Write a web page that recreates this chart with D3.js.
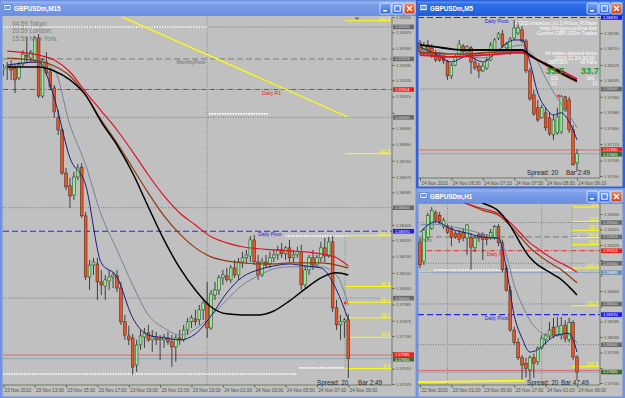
<!DOCTYPE html>
<html>
<head>
<meta charset="utf-8">
<script src="https://cdn.jsdelivr.net/npm/d3@7"></script>
<style>
html, body { margin: 0; padding: 0; background: #2a5bd7; overflow: hidden; }
svg { display: block; }
text { font-family: "Liberation Sans", Arial, sans-serif; }
</style>
</head>
<body>
<script>
// ---------------- M15 (main window) ----------------
// one bar every 15 minutes, first bar 23 Nov 11:00, last 24 Nov 09:00
var m15TimeLabels = ["23 Nov 2010", "23 Nov 13:00", "23 Nov 15:00", "23 Nov 17:00", "23 Nov 19:00", "23 Nov 21:00",
  "23 Nov 23:00", "24 Nov 01:00", "24 Nov 03:00", "24 Nov 05:00", "24 Nov 07:00", "24 Nov 09:00"];
var m15TimeBars = [0, 8, 16, 24, 32, 40, 48, 56, 64, 72, 80, 88];
var m15PriceLabels = ["1.59555", "1.59470", "1.59380", "1.59290", "1.59205", "1.59115", "1.59025", "1.58940",
  "1.58850", "1.58760", "1.58670", "1.58585", "1.58495", "1.58405", "1.58320", "1.58230", "1.58140", "1.58055",
  "1.57965", "1.57875", "1.57790", "1.57700", "1.57610", "1.57525"];
// [open, high, low, close]
var m15Candles = [
  [1.59262, 1.59295, 1.59229, 1.59273], [1.59273, 1.59306, 1.59207, 1.59284], [1.59284, 1.59317, 1.59207, 1.59262],
  [1.59273, 1.59295, 1.59134, 1.59207], [1.59218, 1.59306, 1.59207, 1.59289], [1.59295, 1.59372, 1.59284, 1.59350],
  [1.59344, 1.59444, 1.59306, 1.59333], [1.59328, 1.59372, 1.59306, 1.59361], [1.59317, 1.59450, 1.59306, 1.59439],
  [1.59439, 1.59461, 1.59107, 1.59118], [1.59118, 1.59328, 1.59107, 1.59317], [1.59306, 1.59361, 1.59229, 1.59245],
  [1.59251, 1.59273, 1.59151, 1.59168], [1.59163, 1.59179, 1.58997, 1.59030], [1.58997, 1.59041, 1.58902, 1.58930],
  [1.58930, 1.58941, 1.58681, 1.58692], [1.58692, 1.58720, 1.58598, 1.58615], [1.58621, 1.58665, 1.58499, 1.58565],
  [1.58570, 1.58698, 1.58543, 1.58670], [1.58670, 1.58742, 1.58654, 1.58720], [1.58725, 1.58747, 1.58444, 1.58455],
  [1.58455, 1.58477, 1.58101, 1.58117], [1.58117, 1.58211, 1.58045, 1.58183], [1.58183, 1.58223, 1.58128, 1.58200],
  [1.58189, 1.58223, 1.57990, 1.58090], [1.58090, 1.58156, 1.58017, 1.58073], [1.58067, 1.58128, 1.57990, 1.58101],
  [1.58095, 1.58156, 1.58045, 1.58117], [1.58117, 1.58145, 1.58056, 1.58128], [1.58123, 1.58156, 1.58034, 1.58056],
  [1.58056, 1.58090, 1.57852, 1.57869], [1.57869, 1.57907, 1.57769, 1.57796], [1.57791, 1.57847, 1.57741, 1.57769],
  [1.57780, 1.57802, 1.57575, 1.57619], [1.57630, 1.57769, 1.57592, 1.57741], [1.57741, 1.57824, 1.57714, 1.57791],
  [1.57785, 1.57835, 1.57725, 1.57808], [1.57808, 1.57852, 1.57758, 1.57769], [1.57769, 1.57824, 1.57703, 1.57785],
  [1.57780, 1.57813, 1.57741, 1.57769], [1.57769, 1.57796, 1.57658, 1.57774], [1.57769, 1.57802, 1.57725, 1.57785],
  [1.57780, 1.57813, 1.57741, 1.57758], [1.57758, 1.57796, 1.57619, 1.57730], [1.57730, 1.57796, 1.57647, 1.57780],
  [1.57780, 1.57824, 1.57741, 1.57769], [1.57769, 1.57852, 1.57758, 1.57824], [1.57824, 1.57891, 1.57796, 1.57869],
  [1.57869, 1.57907, 1.57835, 1.57891], [1.57885, 1.57935, 1.57847, 1.57869], [1.57880, 1.57962, 1.57852, 1.57935],
  [1.57935, 1.57990, 1.57880, 1.57973], [1.57973, 1.58090, 1.57780, 1.57835], [1.57835, 1.58045, 1.57824, 1.58023],
  [1.58017, 1.58090, 1.57990, 1.58045], [1.58045, 1.58128, 1.58017, 1.58112], [1.58112, 1.58156, 1.58073, 1.58128],
  [1.58123, 1.58167, 1.58090, 1.58101], [1.58101, 1.58183, 1.58084, 1.58167], [1.58167, 1.58211, 1.58112, 1.58128],
  [1.58128, 1.58223, 1.58101, 1.58200], [1.58200, 1.58256, 1.58167, 1.58223], [1.58223, 1.58267, 1.58189, 1.58239],
  [1.58233, 1.58344, 1.58200, 1.58322], [1.58322, 1.58350, 1.58183, 1.58200], [1.58200, 1.58239, 1.58101, 1.58128],
  [1.58128, 1.58223, 1.58117, 1.58200], [1.58200, 1.58239, 1.58167, 1.58183], [1.58189, 1.58256, 1.58167, 1.58223],
  [1.58223, 1.58267, 1.58200, 1.58239], [1.58239, 1.58289, 1.58211, 1.58267], [1.58267, 1.58306, 1.58223, 1.58245],
  [1.58245, 1.58289, 1.58211, 1.58278], [1.58278, 1.58322, 1.58200, 1.58223], [1.58223, 1.58267, 1.58200, 1.58239],
  [1.58239, 1.58284, 1.58223, 1.58256], [1.58256, 1.58295, 1.58045, 1.58073], [1.58073, 1.58183, 1.58056, 1.58156],
  [1.58156, 1.58239, 1.58128, 1.58223], [1.58223, 1.58267, 1.58156, 1.58183], [1.58183, 1.58239, 1.58167, 1.58223],
  [1.58223, 1.58311, 1.58200, 1.58278], [1.58278, 1.58333, 1.58200, 1.58233], [1.58233, 1.58339, 1.58223, 1.58311],
  [1.58311, 1.58344, 1.57924, 1.57946], [1.57946, 1.57990, 1.57824, 1.57852], [1.57852, 1.57907, 1.57769, 1.57869],
  [1.57869, 1.57891, 1.57780, 1.57880], [1.57880, 1.57913, 1.57559, 1.57665]
];
// moving averages read at a few bars
var m15MaBars = [1, 9, 13, 17, 21, 25, 29, 33, 37, 41, 45, 49, 53, 57, 61, 65, 69, 73, 77, 81, 85, 88];
var m15MaRed = [1.59366, 1.59344, 1.59317, 1.59251, 1.59140, 1.59035, 1.58930, 1.58809, 1.58681, 1.58565, 1.58471,
  1.58405, 1.58339, 1.58306, 1.58284, 1.58273, 1.58267, 1.58261, 1.58256, 1.58245, 1.58223, 1.58178];
var m15MaBrown = [1.59328, 1.59311, 1.59284, 1.59229, 1.59123, 1.58985, 1.58858, 1.58720, 1.58581, 1.58455, 1.58355,
  1.58278, 1.58228, 1.58206, 1.58195, 1.58189, 1.58189, 1.58195, 1.58195, 1.58195, 1.58183, 1.58167];
var m15MaBlack = [1.59278, 1.59278, 1.59256, 1.59207, 1.59123, 1.58974, 1.58847, 1.58692, 1.58504, 1.58322, 1.58167,
  1.58045, 1.57951, 1.57913, 1.57907, 1.57907, 1.57929, 1.57985, 1.58051, 1.58112, 1.58140, 1.58128];
var m15MaBlue = [1.59289, 1.59306, 1.59107, 1.58775, 1.58626, 1.58195, 1.58117, 1.57891, 1.57796, 1.57780, 1.57769,
  1.57802, 1.57902, 1.58029, 1.58117, 1.58156, 1.58178, 1.58189, 1.58178, 1.58167, 1.58045, 1.57880];
var m15MaSlate = [1.59284, 1.59306, 1.59262, 1.58958, 1.58737, 1.58460, 1.58267, 1.58073, 1.57907, 1.57835, 1.57796,
  1.57830, 1.57902, 1.57990, 1.58073, 1.58123, 1.58162, 1.58173, 1.58173, 1.58173, 1.58128, 1.57962];
// session high / low dotted segments: [fromBar, toBar, price]
var m15Sessions = [[0, 52, 1.59500], [52.5, 67.5, 1.59019], [72, 88, 1.58344], [0, 75, 1.57580], [75.5, 87, 1.57614]];
var m15Trend = [[30.3, 1.59555], [87.9, 1.59002]];
var m15FibLow = 1.57610, m15FibHigh = 1.58345, m15FibBar = 87.2;
var m15Marker = [87.2, 1.57973];
var m15DaySeparators = [52];

// ---------------- M5 ----------------
var m5TimeLabels = ["24 Nov 2010", "24 Nov 06:30", "24 Nov 07:10", "24 Nov 07:50", "24 Nov 08:30", "24 Nov 09:10"];
var m5TimeBars = [0, 8, 16, 24, 32, 40];
var m5PriceLabels = ["1.58290", "1.58210", "1.58125", "1.58045", "1.57960", "1.57880", "1.57800", "1.57715",
  "1.57630", "1.57550"];
var m5Candles = [
  [1.58238, 1.58254, 1.58176, 1.58192], [1.58202, 1.58244, 1.58176, 1.58223], [1.58228, 1.58254, 1.58176, 1.58187],
  [1.58213, 1.58233, 1.58161, 1.58171], [1.58187, 1.58202, 1.58140, 1.58150], [1.58176, 1.58192, 1.58140, 1.58150],
  [1.58166, 1.58181, 1.58130, 1.58145], [1.58140, 1.58150, 1.58047, 1.58068], [1.58068, 1.58135, 1.58052, 1.58124],
  [1.58124, 1.58176, 1.58119, 1.58166], [1.58166, 1.58254, 1.58161, 1.58233], [1.58223, 1.58233, 1.58181, 1.58192],
  [1.58192, 1.58228, 1.58176, 1.58218], [1.58213, 1.58223, 1.58078, 1.58140], [1.58140, 1.58161, 1.58099, 1.58109],
  [1.58119, 1.58135, 1.58057, 1.58094], [1.58094, 1.58135, 1.58088, 1.58119], [1.58109, 1.58166, 1.58099, 1.58150],
  [1.58150, 1.58244, 1.58145, 1.58228], [1.58202, 1.58264, 1.58192, 1.58254], [1.58264, 1.58295, 1.58254, 1.58285],
  [1.58285, 1.58306, 1.58213, 1.58223], [1.58213, 1.58244, 1.58202, 1.58233], [1.58187, 1.58269, 1.58176, 1.58259],
  [1.58264, 1.58357, 1.58254, 1.58316], [1.58290, 1.58347, 1.58280, 1.58316], [1.58306, 1.58326, 1.58238, 1.58249],
  [1.58249, 1.58259, 1.58083, 1.58094], [1.58094, 1.58109, 1.57939, 1.57949], [1.57970, 1.57995, 1.57861, 1.57871],
  [1.57903, 1.57944, 1.57830, 1.57840], [1.57851, 1.57918, 1.57846, 1.57903], [1.57877, 1.57903, 1.57784, 1.57799],
  [1.57851, 1.57882, 1.57758, 1.57768], [1.57763, 1.57866, 1.57737, 1.57840], [1.57773, 1.57903, 1.57763, 1.57856],
  [1.57778, 1.57970, 1.57768, 1.57960], [1.57960, 1.57965, 1.57882, 1.57892], [1.57944, 1.57960, 1.57773, 1.57789],
  [1.57789, 1.57814, 1.57603, 1.57608], [1.57618, 1.57690, 1.57572, 1.57665]
];
var m5MaBars = [0, 4, 8, 12, 16, 20, 24, 26, 28, 30, 32, 34, 36, 38, 40];
var m5MaBlack = [1.58228, 1.58218, 1.58207, 1.58202, 1.58202, 1.58202, 1.58202, 1.58202, 1.58176, 1.58150, 1.58130,
  1.58109, 1.58083, 1.58062, 1.58042];
var m5MaRed = [1.58176, 1.58171, 1.58166, 1.58171, 1.58176, 1.58181, 1.58187, 1.58187, 1.58171, 1.58150, 1.58130,
  1.58109, 1.58094, 1.58073, 1.58052];
var m5MaBrown = [1.58187, 1.58187, 1.58181, 1.58181, 1.58187, 1.58192, 1.58192, 1.58192, 1.58171, 1.58150, 1.58124,
  1.58099, 1.58078, 1.58057, 1.58037];
var m5MaBlue = [1.58218, 1.58181, 1.58140, 1.58171, 1.58140, 1.58202, 1.58254, 1.58254, 1.58140, 1.57980, 1.57903,
  1.57866, 1.57877, 1.57830, 1.57737];
var m5MaSlate = [1.58202, 1.58187, 1.58166, 1.58166, 1.58161, 1.58187, 1.58223, 1.58228, 1.58192, 1.58140, 1.58057,
  1.57985, 1.57923, 1.57866, 1.57799];
var m5Marker = [35.3, 1.57965];

// ---------------- H1 ----------------
var h1TimeLabels = ["22 Nov 2010", "23 Nov 01:00", "23 Nov 09:00", "23 Nov 17:00", "24 Nov 01:00", "24 Nov 09:00"];
var h1TimeBars = [0, 8, 16, 24, 32, 40];
var h1PriceLabels = ["1.59605", "1.59415", "1.59225", "1.59040", "1.58850", "1.58660", "1.58470", "1.58285",
  "1.58095", "1.57905", "1.57715", "1.57530"];
var h1Candles = [
  [1.5926, 1.5931, 1.5894, 1.5898], [1.5902, 1.5943, 1.5898, 1.5941], [1.5932, 1.5962, 1.5929, 1.5959],
  [1.5943, 1.5969, 1.5941, 1.5965], [1.5962, 1.5965, 1.5951, 1.5953], [1.5959, 1.5963, 1.5948, 1.5951],
  [1.5945, 1.5956, 1.5942, 1.5953], [1.5945, 1.5948, 1.5936, 1.5938], [1.5943, 1.5946, 1.5921, 1.5932],
  [1.5937, 1.5940, 1.5930, 1.5932], [1.5937, 1.5941, 1.5925, 1.5929], [1.5938, 1.5943, 1.5927, 1.5931],
  [1.5931, 1.5948, 1.5910, 1.5947], [1.5932, 1.5937, 1.5892, 1.5920], [1.5919, 1.5934, 1.5914, 1.5931],
  [1.5935, 1.5937, 1.5926, 1.5931], [1.5935, 1.5938, 1.5904, 1.5929], [1.5932, 1.5936, 1.5922, 1.5929],
  [1.5931, 1.5942, 1.5929, 1.5938], [1.5931, 1.5947, 1.5929, 1.5945], [1.5945, 1.5948, 1.5921, 1.5925],
  [1.5925, 1.5929, 1.5889, 1.5892], [1.5894, 1.5898, 1.5865, 1.5867], [1.5867, 1.5872, 1.5816, 1.5818],
  [1.5818, 1.5822, 1.5800, 1.5803], [1.5803, 1.5808, 1.5781, 1.5784], [1.5784, 1.5787, 1.5757, 1.5775],
  [1.5777, 1.5784, 1.5760, 1.5771], [1.5769, 1.5787, 1.5757, 1.5784], [1.5784, 1.5789, 1.5759, 1.5777],
  [1.5779, 1.5798, 1.5775, 1.5796], [1.5796, 1.5812, 1.5794, 1.5808], [1.5806, 1.5814, 1.5800, 1.5812],
  [1.5810, 1.5828, 1.5806, 1.5818], [1.5821, 1.5833, 1.5808, 1.5812], [1.5812, 1.5834, 1.5810, 1.5822],
  [1.5812, 1.5834, 1.5806, 1.5824], [1.5824, 1.5830, 1.5803, 1.5808], [1.5806, 1.5833, 1.5803, 1.5827],
  [1.5827, 1.5830, 1.5781, 1.5785], [1.5785, 1.5787, 1.5757, 1.57665]
];
var h1MaBars = [0, 4, 8, 12, 16, 20, 22, 24, 26, 28, 30, 32, 34, 36, 38, 40];
var h1MaRed = [1.6002, 1.5996, 1.5984, 1.5973, 1.5967, 1.5961, 1.5954, 1.5945, 1.5935, 1.5925, 1.5918, 1.5911,
  1.5905, 1.5900, 1.5895, 1.5889];
var h1MaBrown = [1.5999, 1.5994, 1.5981, 1.5973, 1.5965, 1.5959, 1.5951, 1.5941, 1.5930, 1.5919, 1.5911, 1.5904,
  1.5898, 1.5892, 1.5884, 1.5876];
var h1MaBlack = [1.6008, 1.6002, 1.5992, 1.5983, 1.5974, 1.5964, 1.5953, 1.5938, 1.5921, 1.5907, 1.5898, 1.5892,
  1.5886, 1.5880, 1.5871, 1.5861];
var h1MaBlue = [1.5938, 1.5951, 1.5942, 1.5937, 1.5932, 1.5931, 1.5894, 1.5836, 1.5808, 1.5791, 1.5794, 1.5802,
  1.5810, 1.5813, 1.5814, 1.5791];
var h1MaSlate = [1.5947, 1.5948, 1.5945, 1.5941, 1.5936, 1.5929, 1.5910, 1.5873, 1.5849, 1.5830, 1.5818, 1.5812,
  1.5811, 1.5812, 1.5812, 1.5802];
var h1Sessions = [[-1, 2.8, 1.58885], [3.5, 38.7, 1.58917]];
var h1Trend = [[-1, 1.57540], [26.7, 1.57560]];
var h1FibLow = 1.58942, h1FibHigh = 1.59691, h1FibBar = 38.7;
var h1DaySeparators = [7, 31];
var h1SupportLine = 1.58885;

// ---------------- shared levels ----------------
var roundLevels = [1.595, 1.590, 1.585, 1.580];
var pivotNames = ["MonthlyPivot", "Daily R1", "Daily Pivot"];
var pivotPrices = [1.59323, 1.59154, 1.58370];
var askPrice = 1.57685, bidPrice = 1.57665;
var fibLevels = [0, 23.6, 38.2, 50, 61.8, 100, 161.8, 261.8];

var svg = d3.select('body').append('svg').attr('width', 625).attr('height', 398);
var fmt5 = d3.format('.5f');
var defs = svg.append('defs');

function gradient(id, stops) {
  var gr = defs.append('linearGradient').attr('id', id).attr('x1', 0).attr('y1', 0).attr('x2', 0).attr('y2', 1);
  stops.forEach(function(s) { gr.append('stop').attr('offset', s[0]).attr('stop-color', s[1]); });
}
gradient('tbInactive', [[0, '#9db8f0'], [0.25, '#7b9de8'], [1, '#6a8fe2']]);
gradient('tbActive', [[0, '#5c96f5'], [0.2, '#2f6fe8'], [1, '#1d5ddc']]);
gradient('btnBlue', [[0, '#7aa6f7'], [1, '#2f66dc']]);
gradient('btnRed', [[0, '#f08a60'], [1, '#d0401a']]);

svg.append('rect').attr('width', 625).attr('height', 398).attr('fill', '#2a5bd7');

function drawWindow(w) {
  var g = svg.append('g');
  g.append('rect').attr('x', w.x).attr('y', w.y).attr('width', w.w).attr('height', w.h)
    .attr('fill', w.active ? '#2d62dc' : '#6f93e4');
  g.append('rect').attr('x', w.x + 1.5).attr('y', w.y + 1.5).attr('width', w.w - 3).attr('height', 14)
    .attr('fill', w.active ? 'url(#tbActive)' : 'url(#tbInactive)');
  // little chart icon
  g.append('rect').attr('x', w.x + 4).attr('y', w.y + 4.5).attr('width', 7).attr('height', 6)
    .attr('fill', '#ffffff').attr('stroke', '#3a5fb0').attr('stroke-width', 0.6);
  g.append('rect').attr('x', w.x + 5).attr('y', w.y + 6).attr('width', 5).attr('height', 3).attr('fill', '#6a9be8');
  g.append('text').attr('x', w.x + 14).attr('y', w.y + 11).attr('fill', '#ffffff')
    .attr('font-size', 6.3).attr('font-weight', 'bold').text(w.title);
  var bx = [w.x + w.w - 38, w.x + w.w - 26, w.x + w.w - 14];
  bx.forEach(function(x0, k) {
    g.append('rect').attr('x', x0).attr('y', w.y + 3).attr('width', 11).attr('height', 11).attr('rx', 1.5)
      .attr('fill', k === 2 ? 'url(#btnRed)' : 'url(#btnBlue)').attr('stroke', '#ffffff').attr('stroke-width', 0.7);
    if (k === 0) {
      g.append('rect').attr('x', x0 + 3).attr('y', w.y + 10).attr('width', 4).attr('height', 1.5).attr('fill', '#fff');
    } else if (k === 1) {
      g.append('rect').attr('x', x0 + 2.8).attr('y', w.y + 5.8).attr('width', 5.4).attr('height', 5.4)
        .attr('fill', 'none').attr('stroke', '#fff').attr('stroke-width', 1);
    } else {
      g.append('path').attr('d', 'M' + (x0 + 3) + ',' + (w.y + 6) + 'l5,5M' + (x0 + 8) + ',' + (w.y + 6) + 'l-5,5')
        .attr('stroke', '#fff').attr('stroke-width', 1.3);
    }
  });
  g.append('rect').attr('x', w.x + 2.5).attr('y', w.y + 16).attr('width', w.w - 5).attr('height', w.h - 18.5)
    .attr('fill', '#c0c0c0');
}

function hLine(g, x0, x1, yv, color, dash, width) {
  g.append('line').attr('x1', x0).attr('x2', x1).attr('y1', yv).attr('y2', yv)
    .attr('stroke', color).attr('stroke-width', width || 1).attr('stroke-dasharray', dash || null);
}

function axisBox(g, xAxis, yv, label, fill, color) {
  g.append('rect').attr('x', xAxis + 1).attr('y', yv - 2.3).attr('width', 21).attr('height', 4.6).attr('fill', fill);
  g.append('text').attr('x', xAxis + 3).attr('y', yv + 1.4).attr('font-size', 4).attr('fill', color).text(label);
}

function drawChart(c) {
  var g = svg.append('g');
  var x = d3.scaleLinear().domain(c.xDomain).range(c.xRange);
  var y = d3.scaleLinear().domain(c.yDomain).range(c.yRange);
  var P = c.plot;

  defs.append('clipPath').attr('id', 'clip-' + c.id).append('rect')
    .attr('x', P.l).attr('y', P.t).attr('width', P.r - P.l).attr('height', P.b - P.t);
  var p = g.append('g').attr('clip-path', 'url(#clip-' + c.id + ')');

  // round price levels
  roundLevels.forEach(function(v) { hLine(p, P.l, P.r, y(v), '#7c7c7c', '1,1.5'); });
  // day separators
  (c.daySeps || []).forEach(function(b) {
    p.append('line').attr('x1', x(b)).attr('x2', x(b)).attr('y1', P.t).attr('y2', P.b)
      .attr('stroke', '#7f8c70').attr('stroke-dasharray', '1,1.5');
  });
  // session dotted segments
  (c.sessions || []).forEach(function(s) {
    hLine(p, x(s[0]), x(s[1]), y(s[2]), '#ffffff', '1.6,1', 1.6);
  });
  if (c.support) hLine(p, P.l, P.r, y(c.support), '#8da4bd', null, 1);
  // pivots
  hLine(p, P.l, P.r, y(pivotPrices[0]), '#7a7a7a', '6,3');
  hLine(p, P.l, P.r, y(pivotPrices[1]), '#e22a2a', '5,1.5,1,1.5');
  hLine(p, P.l, P.r, y(pivotPrices[2]), '#2626e6', '6,3', 1.1);
  // bid / ask
  hLine(p, P.l, P.r, y(askPrice), '#e06a6a');
  hLine(p, P.l, P.r, y(bidPrice), '#8ea0b6');

  // fibonacci
  if (c.fib) {
    var fx = x(c.fib.bar);
    p.append('line').attr('x1', fx).attr('x2', fx).attr('y1', y(c.fib.p0)).attr('y2', y(c.fib.p100))
      .attr('stroke', '#5da05d').attr('stroke-dasharray', '1,1.5');
    fibLevels.forEach(function(l) {
      var pr = c.fib.p0 + (c.fib.p100 - c.fib.p0) * l / 100;
      hLine(p, fx, P.r, y(pr), '#ffff00');
      p.append('text').attr('x', P.r - 2).attr('y', y(pr) - 0.8).attr('text-anchor', 'end')
        .attr('font-size', 4.6).attr('fill', '#ffff00').text(d3.format('.1f')(l));
    });
  }
  // trend line
  if (c.trend) {
    p.append('line').attr('x1', x(c.trend[0][0])).attr('y1', y(c.trend[0][1]))
      .attr('x2', x(c.trend[1][0])).attr('y2', y(c.trend[1][1]))
      .attr('stroke', '#ffff00').attr('stroke-width', c.trendWidth || 1.3);
  }

  // candles
  var bars = p.append('g').selectAll('g').data(c.candles).join('g');
  bars.append('line')
    .attr('x1', function(d, i) { return x(i); }).attr('x2', function(d, i) { return x(i); })
    .attr('y1', function(d) { return y(d[1]); }).attr('y2', function(d) { return y(d[2]); })
    .attr('stroke', '#1e1e1e').attr('stroke-width', 0.8);
  bars.append('rect')
    .attr('x', function(d, i) { return x(i) - 1.4; }).attr('width', 2.8)
    .attr('y', function(d) { return y(Math.max(d[0], d[3])); })
    .attr('height', function(d) { return Math.max(0.8, Math.abs(y(d[0]) - y(d[3]))); })
    .attr('fill', function(d) { return d[3] >= d[0] ? '#90ee90' : '#f0521f'; })
    .attr('stroke', '#2a2a2a').attr('stroke-width', 0.5);

  // moving averages
  var line = d3.line().x(function(d) { return x(d[0]); }).y(function(d) { return y(d[1]); })
    .curve(d3.curveMonotoneX);
  c.mas.forEach(function(m) {
    p.append('path').datum(c.maBars.map(function(b, k) { return [b, m.values[k]]; }))
      .attr('d', line).attr('fill', 'none').attr('stroke', m.color).attr('stroke-width', m.width);
  });

  if (c.marker) {
    p.append('circle').attr('cx', x(c.marker[0])).attr('cy', y(c.marker[1])).attr('r', 1.4).attr('fill', '#ff2020');
  }
  // pivot labels
  (c.pivotLabels || []).forEach(function(pl) {
    var k = pivotNames.indexOf(pl[0]);
    var col = ['#6c6c6c', '#e02020', '#2424e0'][k];
    p.append('text').attr('x', x(pl[1])).attr('y', y(pivotPrices[k]) + 5.2).attr('text-anchor', pl[2] || 'start')
      .attr('font-size', 5).attr('fill', col).text(pl[0]);
  });

  // price boxes on the axis (listed first so that tick labels they cover can be dropped)
  var lo = Math.min(c.yDomain[0], c.yDomain[1]) - 0.0001;
  var hi = y.invert(P.t - 2);
  function inRange(v) { return v >= lo && v <= hi; }
  var boxes = [];
  roundLevels.forEach(function(v) { if (inRange(v)) boxes.push([v, '#6a6a6a', '#dcdcdc']); });
  if (inRange(pivotPrices[0])) boxes.push([pivotPrices[0], '#6a6a6a', '#dcdcdc']);
  if (inRange(pivotPrices[1])) boxes.push([pivotPrices[1], '#ee1c1c', '#ffffff']);
  if (c.support) boxes.push([c.support, '#6f8fb4', '#ffffff']);
  if (inRange(pivotPrices[2])) boxes.push([pivotPrices[2], '#1c1cf0', '#ffffff']);
  if (c.showAsk) boxes.push([askPrice, '#ee1c1c', '#ffffff']);
  boxes.push([bidPrice, '#3b6a34', '#ffffff']);

  // axes
  var ya = g.append('g').attr('transform', 'translate(' + P.r + ',0)')
    .call(d3.axisRight(y).tickValues(c.priceLabels.map(Number)).tickFormat(fmt5).tickSize(2.5).tickPadding(1.5));
  ya.select('.domain').remove();
  ya.selectAll('line').attr('stroke', '#55604f');
  ya.selectAll('text').attr('font-size', 4.2).attr('fill', '#4d5346').attr('font-family', null);
  ya.selectAll('.tick').filter(function(d) {
    return boxes.some(function(b) { return Math.abs(y(b[0]) - y(d)) < 4.8; });
  }).select('text').remove();
  var xa = g.append('g').attr('transform', 'translate(0,' + P.b + ')')
    .call(d3.axisBottom(x).tickValues(c.timeBars).tickFormat(function(d, i) { return c.timeLabels[i]; })
      .tickSize(2.5).tickPadding(1));
  xa.select('.domain').remove();
  xa.selectAll('line').attr('stroke', '#55604f');
  xa.selectAll('text').attr('font-size', 4.7).attr('fill', '#4d5346').attr('text-anchor', 'start')
    .attr('dx', 0.8).attr('font-family', null);
  g.append('path').attr('d', 'M' + P.l + ',' + P.b + 'H' + P.r + 'V' + P.t)
    .attr('fill', 'none').attr('stroke', '#6d7a62').attr('stroke-width', 1);

  boxes.forEach(function(b) {
    var yy = y(b[0]);
    if (c.showAsk && b[0] === askPrice) yy -= 0.5;
    if (c.showAsk && b[0] === bidPrice) yy += 0.5;
    axisBox(g, P.r, yy, fmt5(b[0]), b[1], b[2]);
  });

  // spread / bar countdown
  g.append('text').attr('x', c.spread[0]).attr('y', c.spread[2]).attr('font-size', 6.4).attr('fill', '#262626')
    .text('Spread: 20');
  g.append('text').attr('x', c.spread[1]).attr('y', c.spread[2]).attr('font-size', 6.4).attr('fill', '#262626')
    .text(c.barTime);
  return { g: g, x: x, y: y };
}

var maStyles = function(red, brown, black, blue, slate, thick) {
  return [
    { values: slate, color: '#71839a', width: 1 },
    { values: blue, color: '#1c1c78', width: 1 },
    { values: brown, color: '#8b3c0f', width: thick ? 1.6 : 1.2 },
    { values: red, color: '#e0102c', width: thick ? 1.8 : 1.2 },
    { values: black, color: '#000000', width: thick ? 1.8 : 1.5 }
  ];
};

drawWindow({ x: 0, y: 0, w: 418, h: 399, title: 'GBPUSDm,M15', active: false });
drawWindow({ x: 416, y: 0, w: 209, h: 189, title: 'GBPUSDm,M5', active: true });
drawWindow({ x: 416, y: 188, w: 209, h: 211, title: 'GBPUSDm,H1', active: false });

var main = drawChart({
  id: 'm15', plot: { l: 3, r: 392, t: 17, b: 385 },
  xDomain: [0, 88], xRange: [3.3, 348.3], yDomain: [1.57525, 1.59555], yRange: [384, 17],
  candles: m15Candles, maBars: m15MaBars,
  mas: maStyles(m15MaRed, m15MaBrown, m15MaBlack, m15MaBlue, m15MaSlate, false),
  priceLabels: m15PriceLabels, timeLabels: m15TimeLabels, timeBars: m15TimeBars,
  daySeps: m15DaySeparators, sessions: m15Sessions, trend: m15Trend,
  fib: { bar: m15FibBar, p0: m15FibLow, p100: m15FibHigh }, marker: m15Marker, showAsk: true,
  pivotLabels: [['MonthlyPivot', 44.2], ['Daily R1', 66], ['Daily Pivot', 65]],
  spread: [317, 358, 384.5], barTime: 'Bar  2:49'
});
// shift marker and session clocks
main.g.append('path').attr('d', 'M354.5,17.5h5l-2.5,2.5z').attr('fill', '#6a6a6a');
[['04:59 Tokyo:', 25.5], ['20:59 London:', 33], ['15:59 New York:', 40.5]].forEach(function(t) {
  main.g.append('text').attr('x', 12).attr('y', t[1]).attr('font-size', 6.3).attr('fill', '#7c7c7c').text(t[0]);
});

var m5 = drawChart({
  id: 'm5', plot: { l: 418, r: 600, t: 17, b: 178 },
  xDomain: [0, 40], xRange: [420, 577], yDomain: [1.57550, 1.58290], yRange: [176, 33],
  candles: m5Candles, maBars: m5MaBars,
  mas: maStyles(m5MaRed, m5MaBrown, m5MaBlack, m5MaBlue, m5MaSlate, true),
  priceLabels: m5PriceLabels, timeLabels: m5TimeLabels, timeBars: m5TimeBars,
  marker: m5Marker, pivotLabels: [['Daily Pivot', 16.5]], showAsk: true,
  spread: [527, 566, 174.5], barTime: 'Bar  2:49'
});
// trade panel text: [text, left x, baseline, width]
var info = [
  ['FX2010 fxtradeGuru_(v1.1) FXGuru_PGTrader', 515, 24.5, 82],
  ['http://fxguruonline.biz', 540, 29.8, 57],
  ['Current GBPUSDm Trades', 537, 35, 60],
  ['All trades opened since', 545, 54.5, 52],
  ['2010.11.24 00:00', 555, 59.5, 40],
  ['GBPUSDm', 548, 64, 20],
  ['All Pairs', 580, 64, 17],
  ['0/0', 551, 79.8, 7], ['0/0', 587, 79.8, 7],
  ['1/1', 551, 85, 6], ['1/1', 592, 85, 6]
];
info.forEach(function(t) {
  m5.g.append('text').attr('x', t[1]).attr('y', t[2]).attr('font-size', 4.8)
    .attr('textLength', t[3]).attr('lengthAdjust', 'spacingAndGlyphs')
    .attr('fill', '#ffffff').text(t[0]);
});
[[546, 'start'], [599, 'end']].forEach(function(t) {
  m5.g.append('text').attr('x', t[0]).attr('y', 74).attr('text-anchor', t[1]).attr('font-size', 9.4)
    .attr('font-weight', 'bold').attr('fill', '#1a9a1a').text('33.7');
});

var h1 = drawChart({
  id: 'h1', plot: { l: 418, r: 600, t: 203, b: 385 },
  xDomain: [0, 40], xRange: [420, 577], yDomain: [1.57530, 1.59605], yRange: [383, 214],
  candles: h1Candles, maBars: h1MaBars,
  mas: maStyles(h1MaRed, h1MaBrown, h1MaBlack, h1MaBlue, h1MaSlate, false),
  priceLabels: h1PriceLabels, timeLabels: h1TimeLabels, timeBars: h1TimeBars,
  daySeps: h1DaySeparators, sessions: h1Sessions, trend: h1Trend, trendWidth: 1.8, support: h1SupportLine,
  fib: { bar: h1FibBar, p0: h1FibHigh, p100: h1FibLow },
  pivotLabels: [['MonthlyPivot', 3, 'end'], ['Daily R1', 17], ['Daily Pivot', 16.5]],
  spread: [527, 561, 384.5], barTime: 'Bar  47:49'
});
</script>
</body>
</html>
